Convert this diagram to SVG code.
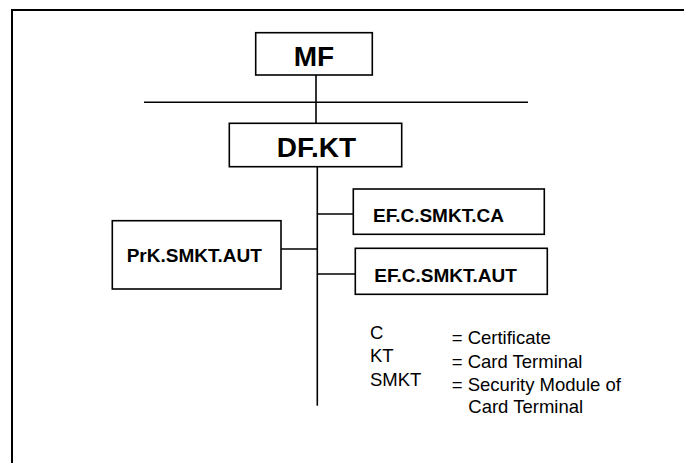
<svg xmlns="http://www.w3.org/2000/svg" width="684" height="463" viewBox="0 0 684 463">
<style>
.box{fill:#fff;stroke:#000;stroke-width:1.6}
.ln{stroke:#000;stroke-width:1.6;fill:none}
.big{font-family:"Liberation Sans",Arial,sans-serif;font-weight:bold;font-size:28px;fill:#000}
.mid{font-family:"Liberation Sans",Arial,sans-serif;font-weight:bold;font-size:19px;fill:#000}
.leg{font-family:"Liberation Sans",Arial,sans-serif;font-size:18.5px;fill:#000}
</style>
<rect x="0" y="0" width="684" height="463" fill="#fff"/>
<rect x="12" y="10" width="700" height="500" fill="none" stroke="#000" stroke-width="2"/>
<g id="connectors">
<line class="ln" x1="144" y1="102.3" x2="528" y2="102.3"/>
<line class="ln" x1="316" y1="75" x2="316" y2="123.3"/>
<line class="ln" x1="317.3" y1="166.7" x2="317.3" y2="405.7"/>
<line class="ln" x1="317.3" y1="214" x2="353.3" y2="214"/>
<line class="ln" x1="317.3" y1="274" x2="355.3" y2="274"/>
<line class="ln" x1="281" y1="249" x2="317.3" y2="249"/>
</g>
<g id="mf">
<rect class="box" x="255.7" y="32.7" width="116.6" height="42.3"/>
<text class="big" x="314" y="65.7" text-anchor="middle">MF</text>
</g>
<g id="dfkt">
<rect class="box" x="229.3" y="123.3" width="172.4" height="43.4"/>
<text class="big" x="316.5" y="156.7" text-anchor="middle">DF.KT</text>
</g>
<g id="efca">
<rect class="box" x="353.3" y="189" width="191" height="45.3"/>
<text class="mid" x="373" y="222.3">EF.C.SMKT.CA</text>
</g>
<g id="efaut">
<rect class="box" x="355.3" y="248.3" width="192" height="46"/>
<text class="mid" x="374.3" y="281.5">EF.C.SMKT.AUT</text>
</g>
<g id="prk">
<rect class="box" x="112.3" y="220.7" width="168.7" height="68.3"/>
<text class="mid" x="126.7" y="261.7">PrK.SMKT.AUT</text>
</g>
<g id="legend">
<text class="leg" x="370" y="339">C</text>
<text class="leg" x="370" y="362.3">KT</text>
<text class="leg" x="370" y="386">SMKT</text>
<text class="leg" x="451.7" y="344">= Certificate</text>
<text class="leg" x="451.7" y="367.7">= Card Terminal</text>
<text class="leg" x="451.7" y="391">= Security Module of</text>
<text class="leg" x="468.3" y="413.3">Card Terminal</text>
</g>
</svg>
